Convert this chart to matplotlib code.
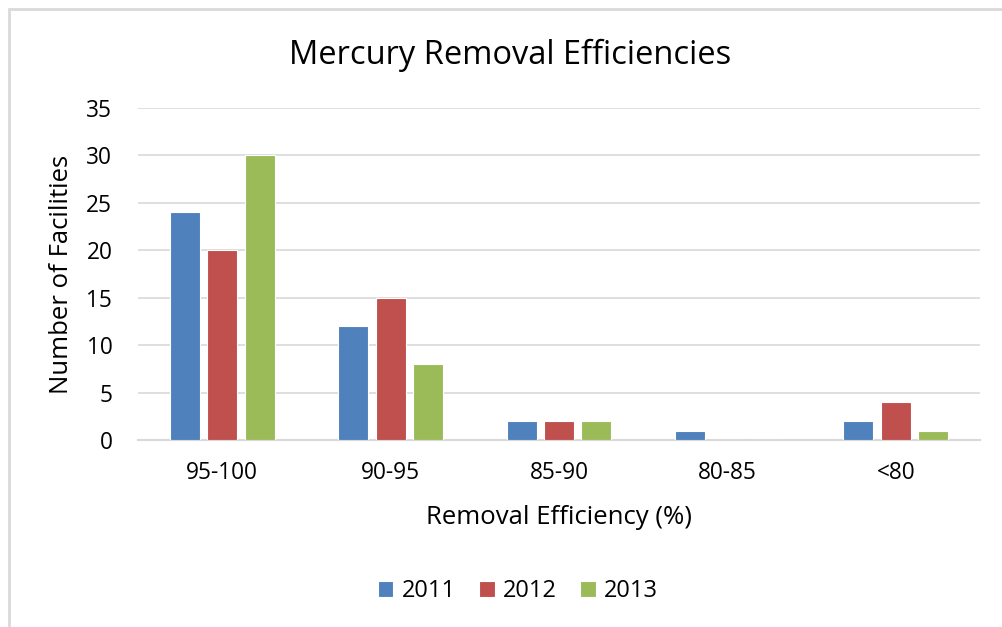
import matplotlib
matplotlib.use("Agg")
import matplotlib.pyplot as plt
from matplotlib.patches import Rectangle
import numpy as np

categories = ["95-100", "90-95", "85-90", "80-85", "<80"]
years = ["2011", "2012", "2013"]
v2011 = [24, 12, 2, 1, 2]
v2012 = [20, 15, 2, 0, 4]
v2013 = [30, 8, 2, 0, 1]
colors = ["#4F81BD", "#C0504D", "#9BBB59"]

plt.rcParams['font.family'] = ['Open Sans', 'DejaVu Sans']

fig = plt.figure(figsize=(10.02, 6.27), dpi=100)
W, H = 1002, 627
# outer frame (only top/left visible)
fig.patches.append(Rectangle((9/W, -0.1), 1.2, (H-9)/H + 0.1, transform=fig.transFigure,
                             fill=False, edgecolor="#D9D9D9", linewidth=2))

ax = fig.add_axes([138/W, 1-440/H, (980-138)/W, (440-108)/H])
x = np.arange(len(categories))
width = 0.178
step = 0.222
for i, (vals, c, y) in enumerate(zip([v2011, v2012, v2013], colors, years)):
    ax.bar(x + (i-1)*step, vals, width, color=c, edgecolor="white", linewidth=0.8, label=y, zorder=3)

ax.set_xlim(-0.5, len(categories)-0.5)
ax.set_ylim(0, 35)
ax.set_yticks(range(0, 36, 5))
ax.set_xticks(x)
ax.set_xticklabels(categories)
ax.grid(axis='y', color="#D9D9D9", linewidth=1.2, zorder=0)
for s in ["top", "right", "left"]:
    ax.spines[s].set_visible(False)
ax.spines["bottom"].set_color("#D9D9D9")
ax.spines["bottom"].set_linewidth(1.5)
ax.tick_params(axis='both', length=0, labelsize=16.3, colors="black")
ax.tick_params(axis='x', pad=15)
ax.tick_params(axis='y', pad=18.5)
ax.set_xlabel("Removal Efficiency (%)", fontsize=18.5, va='center')
ax.xaxis.set_label_coords(0.5, (440-518)/332)
ax.set_ylabel("Number of Facilities", fontsize=18.5, va='center')
ax.yaxis.set_label_coords((62-138)/842, (440-274)/332)
fig.text(510/W, 1-55/H, "Mercury Removal Efficiencies", fontsize=23.5, ha='center', va='center')

fig.legend(loc='center', bbox_to_anchor=(518/W, 1-591/H), ncol=3, frameon=False,
           fontsize=17, handlelength=0.65, handleheight=0.65, handletextpad=0.35, columnspacing=1.0)

fig.savefig("out.png", dpi=100)
